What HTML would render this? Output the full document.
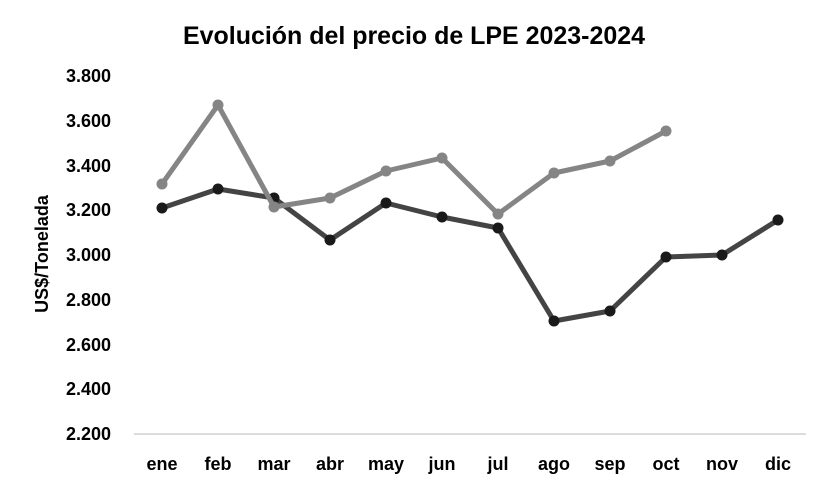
<!DOCTYPE html>
<html><head><meta charset="utf-8"><style>body{margin:0;background:#fff}svg{display:block}</style></head>
<body>
<svg width="827" height="488" xmlns="http://www.w3.org/2000/svg" font-family="Liberation Sans, DejaVu Sans, sans-serif" font-weight="bold">
<rect width="827" height="488" fill="#fff"/>
<text x="414" y="44" text-anchor="middle" font-size="25" fill="#000" textLength="462" lengthAdjust="spacingAndGlyphs">Evolución del precio de LPE 2023-2024</text>
<g font-size="18" text-anchor="end" fill="#000">
<text x="111" y="82">3.800</text><text x="111" y="127">3.600</text><text x="111" y="172">3.400</text><text x="111" y="216">3.200</text><text x="111" y="261">3.000</text><text x="111" y="306">2.800</text><text x="111" y="351">2.600</text><text x="111" y="395">2.400</text><text x="111" y="440">2.200</text>
</g>
<text transform="translate(48,254) rotate(-90)" text-anchor="middle" font-size="18" fill="#000">US$/Tonelada</text>
<line x1="134" y1="434" x2="806" y2="434" stroke="#d0d0d0" stroke-width="1.5"/>
<g font-size="18" text-anchor="middle" fill="#000">
<text x="162" y="470">ene</text><text x="218" y="470">feb</text><text x="274" y="470">mar</text><text x="330" y="470">abr</text><text x="386" y="470">may</text><text x="442" y="470">jun</text><text x="498" y="470">jul</text><text x="554" y="470">ago</text><text x="610" y="470">sep</text><text x="666" y="470">oct</text><text x="722" y="470">nov</text><text x="778" y="470">dic</text>
</g>
<polyline fill="none" stroke="#444" stroke-width="5" stroke-linejoin="round" points="162,208 218,189 274,198 330,240 386,203 442,217 498,228 554,321 610,311 666,257 722,255 778,220"/>
<g fill="#1a1a1a">
<circle cx="162" cy="208" r="5.5"/><circle cx="218" cy="189" r="5.5"/><circle cx="274" cy="198" r="5.5"/><circle cx="330" cy="240" r="5.5"/><circle cx="386" cy="203" r="5.5"/><circle cx="442" cy="217" r="5.5"/><circle cx="498" cy="228" r="5.5"/><circle cx="554" cy="321" r="5.5"/><circle cx="610" cy="311" r="5.5"/><circle cx="666" cy="257" r="5.5"/><circle cx="722" cy="255" r="5.5"/><circle cx="778" cy="220" r="5.5"/>
</g>
<polyline fill="none" stroke="#858585" stroke-width="5" stroke-linejoin="round" points="162,184 218,105 274,207 330,198 386,171 442,158 498,214 554,173 610,161 666,131"/>
<g fill="#858585">
<circle cx="162" cy="184" r="5.5"/><circle cx="218" cy="105" r="5.5"/><circle cx="274" cy="207" r="5.5"/><circle cx="330" cy="198" r="5.5"/><circle cx="386" cy="171" r="5.5"/><circle cx="442" cy="158" r="5.5"/><circle cx="498" cy="214" r="5.5"/><circle cx="554" cy="173" r="5.5"/><circle cx="610" cy="161" r="5.5"/><circle cx="666" cy="131" r="5.5"/>
</g>
</svg>
</body></html>
